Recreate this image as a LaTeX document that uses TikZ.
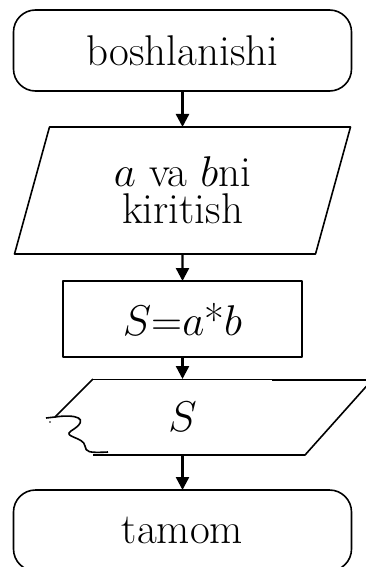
\RequirePackage{fix-cm}
\documentclass[tikz,border=0pt]{standalone}
\usetikzlibrary{shapes.geometric,arrows.meta}
\begin{document}
\begin{tikzpicture}[x=1pt,y=-1pt,>={Triangle[length=13pt,width=13pt]},line join=round,
	font=\fontsize{43}{37}\selectfont,
	terminal/.style={draw,line width=1.6pt,rounded corners=22pt,minimum width=338pt,minimum height=81pt,outer sep=0pt},
	io/.style={draw,line width=1.6pt,trapezium,trapezium left angle=62.5,trapezium right angle=117.5,trapezium stretches body,minimum width=336pt,minimum height=127pt,outer sep=0pt,inner sep=0pt,align=center},
	process/.style={draw,line width=1.6pt,minimum width=239pt,minimum height=76pt,outer sep=0pt},
	flow/.style={->,line width=2.4pt}]
	\useasboundingbox (0,0) rectangle (365,567);
	\node[terminal] (start) at (182.5,50.5) {boshlanishi};
	\node[io] (inp) at (182.5,190.5) {$a$ va $b$ni\\kiritish};
	\node[process] (calc) at (182.5,319) {$S$=$a$*$b$};
	\node[minimum width=200pt,minimum height=76pt,outer sep=0pt] (outp) at (182.5,417) {$S$};
	\node[terminal] (finish) at (182.5,530.5) {tamom};
	% display shape
	\draw[line width=1pt] (93,379) -- (272,379);
	\draw[line width=1.6pt] (272,380) -- (372,380) -- (305,455) -- (93,455);
	\draw[line width=1.6pt] (93,379) -- (55,417) -- (46,418);
	\draw[line width=1.6pt] (55,417) .. controls (75,414) and (92,418) .. (71,431)
		.. controls (62,437) and (84,437) .. (85,446) .. controls (86,452) and (88,453) .. (108,452);
	\fill (50,422) circle (0.8pt);
	% arrows
	\draw[flow] (start) -- (inp);
	\draw[flow] (inp) -- (calc);
	\draw[flow] (calc) -- (outp);
	\draw[flow] (outp) -- (finish);
\end{tikzpicture}
\end{document}
